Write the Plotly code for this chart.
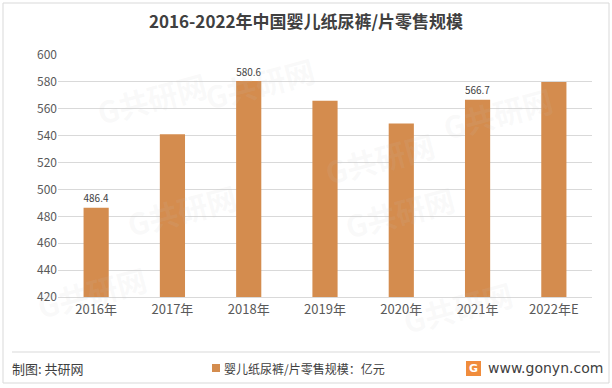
import plotly.graph_objects as go

years = ["2016年", "2017年", "2018年", "2019年", "2020年", "2021年", "2022年E"]
values = [486.4, 541.0, 580.6, 566.0, 549.0, 566.7, 580.0]
label_text = ["486.4", "", "580.6", "", "", "566.7", ""]
series_name = "婴儿纸尿裤/片零售规模：亿元"
y_ticks = [420, 440, 460, 480, 500, 520, 540, 560, 580, 600]

FONT = "Noto Sans CJK SC"
BAR = "#D48C4E"

fig = go.Figure()
fig.add_trace(go.Bar(
    x=years, y=values, name=series_name,
    marker=dict(color=BAR, line=dict(width=0)),
    width=0.33,
    text=label_text, textposition="outside", cliponaxis=False,
    textfont=dict(family=FONT, size=12, color="#404040"),
))

W, H = 612, 388
L, R, T, B = 58, 20, 55, 91
pw, ph = W - L - R, H - T - B
def px(x): return (x - L) / pw
def py(y): return (H - B - y) / ph

fig.update_layout(
    width=W, height=H,
    margin=dict(l=L, r=R, t=T, b=B),
    paper_bgcolor="white", plot_bgcolor="white",
    font=dict(family=FONT, color="#595959"),
    title=dict(text="<b>2016-2022年中国婴儿纸尿裤/片零售规模</b>", x=0.5, xanchor="center",
               y=1 - 22 / H, yanchor="middle",
               font=dict(family=FONT, size=17, color="#404040")),
    showlegend=False,
    xaxis=dict(showline=True, linecolor="#D9D9D9", linewidth=1, ticks="",
               tickfont=dict(family=FONT, size=13, color="#595959")),
    yaxis=dict(range=[420, 600], tickvals=y_ticks, showgrid=True, gridcolor="#D9D9D9",
               gridwidth=1, zeroline=False, showline=False, ticks="",
               tickfont=dict(family=FONT, size=12, color="#595959")),
)

# faint watermarks
for (wx, wy) in [(90, 60), (380, 120), (120, 210), (400, 250), (30, 330), (520, 345), (260, 45), (560, 75)]:
    fig.add_annotation(xref="paper", yref="paper", x=px(wx), y=py(wy), showarrow=False,
                       text="<b>G共研网</b>", textangle=-15,
                       font=dict(family=FONT, size=30, color="rgba(200,200,200,0.10)"))

# outer border
fig.add_shape(type="rect", xref="paper", yref="paper",
              x0=px(3), x1=px(609), y0=py(383), y1=py(3),
              line=dict(color="#D9D9D9", width=1), layer="below")
# separator line
fig.add_shape(type="line", xref="paper", yref="paper",
              x0=px(12), x1=px(600), y0=py(352), y1=py(352),
              line=dict(color="#D9D9D9", width=1))
# footer source text
fig.add_annotation(xref="paper", yref="paper", x=px(10), y=py(368), xanchor="left", yanchor="middle",
                   text="制图: 共研网", showarrow=False,
                   font=dict(family=FONT, size=13, color="#404040"))
# manual legend
fig.add_shape(type="rect", xref="paper", yref="paper",
              x0=px(212), x1=px(220), y0=py(372), y1=py(364),
              line=dict(width=0), fillcolor=BAR)
fig.add_annotation(xref="paper", yref="paper", x=px(222), y=py(368), xanchor="left", yanchor="middle",
                   text=series_name, showarrow=False,
                   font=dict(family=FONT, size=12, color="#404040"))
# logo
fig.add_shape(type="rect", xref="paper", yref="paper",
              x0=px(466), x1=px(481), y0=py(376), y1=py(361),
              line=dict(width=0), fillcolor="#F08C3C")
fig.add_annotation(xref="paper", yref="paper", x=px(473.5), y=py(368.5), xanchor="center", yanchor="middle",
                   text="<b>G</b>", showarrow=False,
                   font=dict(family="DejaVu Sans", size=11, color="white"))
fig.add_annotation(xref="paper", yref="paper", x=px(605), y=py(368), xanchor="right", yanchor="middle",
                   text="www.gonyn.com", showarrow=False,
                   font=dict(family="DejaVu Sans", size=14, color="#404040"))

fig.write_html("out.html", config={"displayModeBar": False},
               post_script="document.body.style.margin='0';document.body.style.overflow='hidden';")
